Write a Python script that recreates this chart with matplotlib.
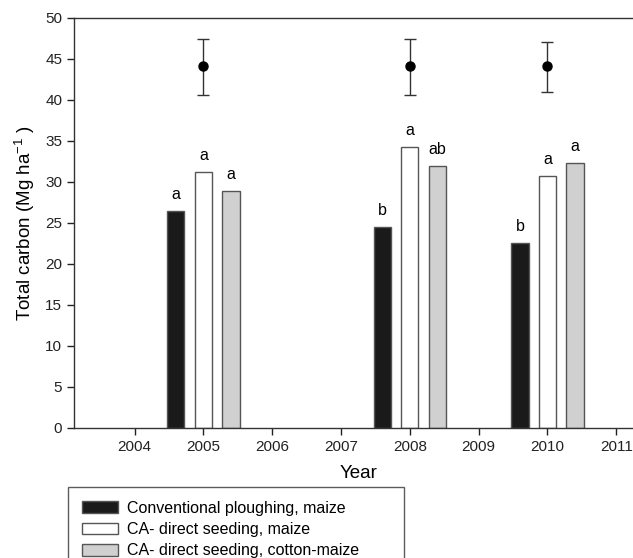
import matplotlib
matplotlib.use("Agg")
from matplotlib import pyplot as plt

plt.rcParams['font.family'] = ['Liberation Sans', 'DejaVu Sans']

# data
years = [2005, 2008, 2010]
conventional = [26.5, 24.5, 22.6]
ca_maize = [31.2, 34.2, 30.7]
ca_cotton = [28.9, 31.95, 32.3]
letters_conv = ['a', 'b', 'b']
letters_maize = ['a', 'a', 'a']
letters_cotton = ['a', 'ab', 'a']
point_mean = [44.1, 44.1, 44.1]
point_low = [40.6, 40.6, 41.0]
point_high = [47.4, 47.4, 47.0]

fig = plt.figure(figsize=(6.33, 5.58), dpi=100)
ax = fig.add_axes([0.117, 0.233, 0.9, 0.735])

w = 0.25
off = 0.4
edge = '#555555'
series = [
	(conventional, -off, '#1a1a1a', 'Conventional ploughing, maize', letters_conv),
	(ca_maize, 0, 'white', 'CA- direct seeding, maize', letters_maize),
	(ca_cotton, off, '#d0d0d0', 'CA- direct seeding, cotton-maize', letters_cotton),
]
handles = []
for vals, dx, col, lab, lets in series:
	xs = [y + dx for y in years]
	b = ax.bar(xs, vals, width=w, color=col, edgecolor=edge, linewidth=1.0, label=lab)
	handles.append(b)
	for x, v, t in zip(xs, vals, lets):
		ax.text(x, v + 1.1, t, ha='center', va='bottom', fontsize=11.5)

yerr = [[m - lo for m, lo in zip(point_mean, point_low)],
		[hi - m for m, hi in zip(point_mean, point_high)]]
ax.errorbar(years, point_mean, yerr=yerr, fmt='o', color='black', ms=6.5,
			ecolor='#333333', elinewidth=1.0, capsize=4, capthick=1.0)

ax.set_xlim(2003.12, 2011.4)
ax.set_ylim(0, 50)
ax.set_xticks(range(2004, 2012))
ax.set_yticks(range(0, 51, 5))
ax.tick_params(axis='both', direction='out', length=5, width=1, labelsize=11, colors='#222222')
for s in ax.spines.values():
	s.set_color('#333333')
	s.set_linewidth(1.0)

ax.set_xlabel('Year', fontsize=13.5, labelpad=8)
ax.set_ylabel('Total carbon (Mg ha$^{\\mathregular{-1}}$ )', fontsize=13.5, labelpad=6)

fig.legend(handles=handles, loc='upper left', bbox_to_anchor=(0.1074, 0.0, 0.531, 0.1272),
		   mode='expand', borderaxespad=0,
		   frameon=True, fancybox=False, edgecolor='#333333', fontsize=11.5,
		   handlelength=2.3, handleheight=0.75, labelspacing=0.4,
		   borderpad=0.85, handletextpad=0.55)

fig.savefig('out.png', dpi=100)
